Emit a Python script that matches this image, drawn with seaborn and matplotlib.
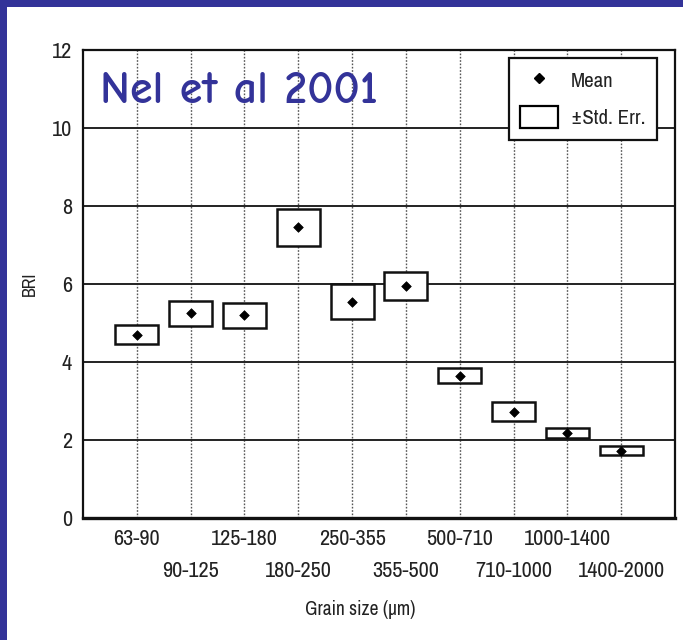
import matplotlib
matplotlib.use('Agg')
import matplotlib.pyplot as plt
import seaborn as sns
import pandas as pd
from matplotlib.patches import Rectangle, Patch
from matplotlib.lines import Line2D

# ---- data ----
grain_sizes = ["63-90", "90-125", "125-180", "180-250", "250-355",
               "355-500", "500-710", "710-1000", "1000-1400", "1400-2000"]
bri_mean = [4.70, 5.25, 5.20, 7.45, 5.55, 5.95, 3.65, 2.73, 2.17, 1.73]
bri_se = [0.25, 0.32, 0.32, 0.47, 0.45, 0.35, 0.20, 0.25, 0.13, 0.12]
y_ticks = [0, 2, 4, 6, 8, 10, 12]

sns.set_theme(style='white')
NARROW = ['Archivo Narrow', 'PT Sans Narrow', 'Liberation Sans', 'DejaVu Sans']
plt.rcParams['font.family'] = NARROW

W, H = 683, 640
fig = plt.figure(figsize=(W / 100, H / 100), dpi=100)
fig.patch.set_facecolor('white')
ax = fig.add_axes([83 / W, 1 - 518 / H, 592 / W, 468 / H])
ax.set_facecolor('white')

pos = list(range(1, len(grain_sizes) + 1))
df = pd.DataFrame({'pos': pos, 'mean': bri_mean, 'se': bri_se, 'size': grain_sizes})
df['lower'] = df['mean'] - df['se']
df['span'] = 2 * df['se']

ax.bar(df['pos'], df['span'], bottom=df['lower'], width=0.8,
       facecolor='white', edgecolor='#111111', linewidth=1.8, zorder=3)
sns.scatterplot(data=df, x='pos', y='mean', marker='D', color='black',
                s=24, edgecolor='black', linewidth=0.5, ax=ax, zorder=4, legend=False)

ax.set_xlim(0, 11)
ax.set_ylim(0, 12)
ax.set_yticks(y_ticks)
ax.set_yticklabels([str(v) for v in y_ticks])
ax.set_xticks(pos[0::2])
ax.set_xticklabels(grain_sizes[0::2])
ax.set_xticks(pos[1::2], minor=True)
ax.set_xticklabels(grain_sizes[1::2], minor=True)

ax.yaxis.grid(True, color='#222222', linewidth=1.4, linestyle='-', zorder=1)
ax.xaxis.grid(True, which='both', color='#555555', linewidth=1.0,
              linestyle=(0, (1.2, 1.2)), zorder=1)
ax.set_axisbelow(True)

ax.tick_params(axis='both', which='both', length=0, labelsize=16, labelcolor='#222222')
ax.tick_params(axis='y', pad=8)
ax.tick_params(axis='x', which='major', pad=8)
ax.tick_params(axis='x', which='minor', pad=31)

for side in ['left', 'right', 'top']:
    ax.spines[side].set_color('#111111')
    ax.spines[side].set_linewidth(1.6)
ax.spines['bottom'].set_color('#111111')
ax.spines['bottom'].set_linewidth(2.4)

ax.set_xlabel('Grain size (\u00b5m)', fontsize=14, color='#222222')
ax.xaxis.set_label_coords((360 - 83) / 592, (518 - 600) / 468)
ax.set_ylabel('BRI', fontsize=13, color='#222222')
ax.yaxis.set_label_coords((38 - 83) / 592, 0.5)

handles = [Line2D([], [], marker='D', color='black', linestyle='none', markersize=5.5),
           Patch(facecolor='white', edgecolor='black', linewidth=1.6)]
leg = ax.legend(handles, ['Mean', '\u00b1Std. Err.'], loc='upper right',
                bbox_to_anchor=((657 - 83) / 592, (518 - 58) / 468), borderaxespad=0,
                fontsize=15, frameon=True, fancybox=False, framealpha=1,
                handlelength=1.8, handleheight=1.25, handletextpad=0.65,
                borderpad=0.55, labelspacing=0.7)
leg.get_frame().set_edgecolor('#111111')
leg.get_frame().set_linewidth(1.6)
for t in leg.get_texts():
    t.set_color('#222222')
leg.set_zorder(6)

fig.text(100 / W, 1 - 103 / H, 'Nel et al 2001', fontsize=33, color='#333399',
         fontweight='bold',
         family=['Comic Neue', 'Liberation Sans', 'DejaVu Sans'], ha='left', va='baseline', zorder=7)

# blue slide frame (top and left bands)
fig.add_artist(Rectangle((0, 1 - 7 / H), 1, 7 / H, transform=fig.transFigure,
                         facecolor='#333399', edgecolor='none', zorder=10))
fig.add_artist(Rectangle((0, 0), 7 / W, 1, transform=fig.transFigure,
                         facecolor='#333399', edgecolor='none', zorder=10))

fig.savefig('out.png', dpi=100, facecolor='white')
